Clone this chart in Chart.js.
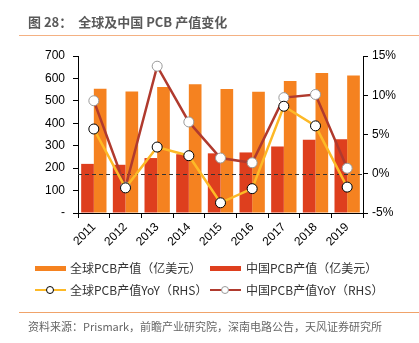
<!DOCTYPE html>
<html>
<head>
<meta charset="utf-8">
<script src="https://cdn.jsdelivr.net/npm/chart.js@4.4.1/dist/chart.umd.min.js"></script>
<style>
  html,body{margin:0;padding:0;background:#fff;}
  #wrap{position:relative;width:419px;height:343px;overflow:hidden;font-family:"Noto Sans CJK SC","Liberation Sans",sans-serif;}
  #c{position:absolute;left:0;top:0;}
  .title{position:absolute;left:28px;top:12px;font-size:13px;font-weight:bold;color:#595959;white-space:pre;}
  .rule{position:absolute;left:19px;right:0;height:1px;background:#F4B183;}
  .src{position:absolute;left:28px;top:318px;font-size:11px;color:#666;white-space:nowrap;}
  .lg{position:absolute;font-size:12px;color:#333;white-space:nowrap;line-height:14px;}
  .sw{position:absolute;width:31px;height:5px;}
  .ln{position:absolute;width:31px;height:2px;}
  .dot{position:absolute;width:6px;height:6px;border-radius:50%;background:#fff;border:1px solid #000;}
</style>
</head>
<body>
<div id="wrap">
  <canvas id="c" width="419" height="343"></canvas>
  <div class="title">图 28：  全球及中国 PCB 产值变化</div>
  <div class="rule" style="top:35px"></div>
  <div class="sw" style="left:35px;top:266px;background:#F58220"></div>
  <div class="lg" style="left:70px;top:261px">全球PCB产值（亿美元）</div>
  <div class="sw" style="left:210px;top:266px;background:#DE3F1E"></div>
  <div class="lg" style="left:246px;top:261px">中国PCB产值（亿美元）</div>
  <div class="ln" style="left:35px;top:289px;background:#FDB927"></div>
  <div class="dot" style="left:46px;top:286px;border-color:#000"></div>
  <div class="lg" style="left:70px;top:283px">全球PCB产值YoY（RHS）</div>
  <div class="ln" style="left:210px;top:289px;background:#B03A2E"></div>
  <div class="dot" style="left:221px;top:286px;border-color:#999"></div>
  <div class="lg" style="left:246px;top:283px">中国PCB产值YoY（RHS）</div>
  <div class="rule" style="top:312px;background:#F0A36A"></div>
  <div class="src">资料来源：Prismark，前瞻产业研究院，深南电路公告，天风证券研究所</div>
</div>
<script>
// 年份
const years = ['2011','2012','2013','2014','2015','2016','2017','2018','2019'];
// 产值（亿美元）
const globalPcb = [554, 542, 562, 574, 553, 541, 588, 624, 613];
const chinaPcb  = [219, 215, 245, 262, 266, 270, 297, 327, 329];
// 同比（%）
const globalYoy = [5.7, -1.8, 3.4, 2.3, -3.7, -1.9, 8.6, 6.1, -1.7];
const chinaYoy  = [9.3, -1.7, 13.7, 6.6, 2.0, 1.4, 9.7, 10.1, 0.7];

const tickFont = {family:'"Liberation Sans", Arial, sans-serif', size:12};

// 0% 虚线：画在柱子之上、折线之下
const zeroLine = {
  id:'zeroLine',
  afterDatasetDraw(chart, args){
    if(args.index !== 3) return;
    const {ctx, chartArea, scales} = chart;
    const y = Math.round(scales.y1.getPixelForValue(0)) + 0.5;
    ctx.save();
    ctx.strokeStyle = '#333';
    ctx.lineWidth = 1;
    ctx.setLineDash([4,3]);
    ctx.beginPath();
    ctx.moveTo(chartArea.left, y);
    ctx.lineTo(chartArea.right, y);
    ctx.stroke();
    ctx.restore();
  }
};

new Chart(document.getElementById('c'), {
  data:{
    labels: years,
    datasets:[
      {type:'line', label:'中国PCB产值YoY（RHS）', data:chinaYoy, yAxisID:'y1', borderColor:'#B03A2E', borderWidth:2.5,
       pointRadius:5, pointBackgroundColor:'#fff', pointBorderColor:'#999', pointBorderWidth:1, tension:0, order:1},
      {type:'line', label:'全球PCB产值YoY（RHS）', data:globalYoy, yAxisID:'y1', borderColor:'#FDB927', borderWidth:2.5,
       pointRadius:5, pointBackgroundColor:'#fff', pointBorderColor:'#000', pointBorderWidth:1, tension:0, order:0},
      {type:'bar', label:'全球PCB产值（亿美元）', data:globalPcb, yAxisID:'y', backgroundColor:'#F58220',
       categoryPercentage:0.8, barPercentage:1.0, order:3},
      {type:'bar', label:'中国PCB产值（亿美元）', data:chinaPcb, yAxisID:'y', backgroundColor:'#DE3F1E',
       categoryPercentage:0.8, barPercentage:1.0, order:2}
    ]
  },
  options:{
    responsive:false,
    animation:false,
    layout:{padding:{top:56, bottom:90, left:0, right:0}},
    plugins:{legend:{display:false}, tooltip:{enabled:false}},
    scales:{
      x:{
        offset:true,
        grid:{offset:true, drawOnChartArea:false, drawTicks:true, tickLength:5, color:'#000'},
        border:{display:true, color:'#000', width:1},
        ticks:{color:'#000', font:tickFont, minRotation:45, maxRotation:45, padding:2},
        afterFit(s){ s.height = 40; }
      },
      y:{
        position:'left', min:0, max:700,
        grid:{drawOnChartArea:false, tickLength:5, color:'#000'},
        border:{display:true, color:'#000', width:1},
        ticks:{stepSize:100, color:'#000', font:tickFont, padding:8,
               callback:v => v === 0 ? '-' : v},
        afterFit(s){ s.width = 78; }
      },
      y1:{
        position:'right', min:-5, max:15,
        grid:{drawOnChartArea:false, tickLength:5, color:'#000'},
        border:{display:true, color:'#000', width:1},
        ticks:{stepSize:5, color:'#000', font:tickFont, padding:4,
               callback:v => v + '%'},
        afterFit(s){ s.width = 56; }
      }
    }
  },
  plugins:[zeroLine]
});
</script>
</body>
</html>
